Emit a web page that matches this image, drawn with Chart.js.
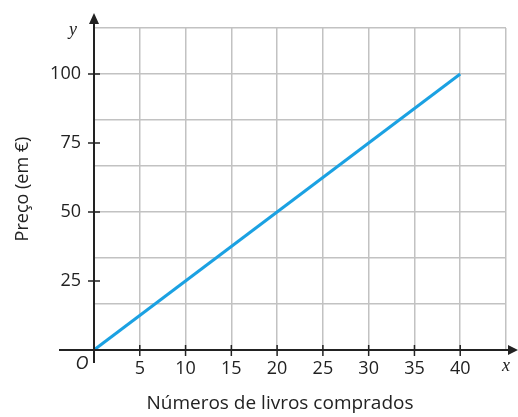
<!DOCTYPE html>
<html lang="pt">
<head>
<meta charset="UTF-8">
<title>Preço dos livros</title>
<script src="https://cdn.jsdelivr.net/npm/chart.js"></script>
<style>
  html, body { margin: 0; padding: 0; background: #fff; }
  #wrap { width: 518px; height: 417px; }
</style>
</head>
<body>
<div id="wrap"><canvas id="grafico" width="518" height="417"></canvas></div>
<script>
// dados
const livros = [0, 40];
const precos = [0, 100];
const xTicks = [5, 10, 15, 20, 25, 30, 35, 40];
const yTicks = [25, 50, 75, 100];
const tituloX = 'Números de livros comprados';

const textColor = '#222';
const gridColor = '#c2c2c2';

// quadriculado: x de 5 em 5, y de 100/6 em 100/6 (quadrados)
const xMax = 45;
const yMax = 700 / 6;
const yGrid = [0, 1, 2, 3, 4, 5, 6, 7].map(k => k * 100 / 6);

const eixos = {
  id: 'eixos',
  afterDatasetsDraw(chart) {
    const ctx = chart.ctx;
    const xs = chart.scales.x, ys = chart.scales.y;
    const x0 = xs.getPixelForValue(0), y0 = ys.getPixelForValue(0);
    ctx.save();
    ctx.strokeStyle = textColor;
    ctx.fillStyle = textColor;
    ctx.lineWidth = 2;
    // eixo x
    ctx.beginPath();
    ctx.moveTo(59, y0); ctx.lineTo(510, y0); ctx.stroke();
    ctx.beginPath();
    ctx.moveTo(518, y0); ctx.lineTo(508, y0 - 5); ctx.lineTo(508, y0 + 5); ctx.closePath(); ctx.fill();
    // eixo y
    ctx.beginPath();
    ctx.moveTo(x0, y0 + 13); ctx.lineTo(x0, 22); ctx.stroke();
    ctx.beginPath();
    ctx.moveTo(x0, 13); ctx.lineTo(x0 - 5, 24); ctx.lineTo(x0 + 5, 24); ctx.closePath(); ctx.fill();
    // marcas
    ctx.lineWidth = 1.5;
    xTicks.forEach(v => {
      const px = xs.getPixelForValue(v);
      ctx.beginPath(); ctx.moveTo(px, y0 - 5); ctx.lineTo(px, y0 + 6); ctx.stroke();
    });
    yTicks.forEach(v => {
      const py = ys.getPixelForValue(v);
      ctx.beginPath(); ctx.moveTo(x0 - 6, py); ctx.lineTo(x0 + 6, py); ctx.stroke();
    });
    // letras
    ctx.font = 'italic 18px "Liberation Serif"';
    ctx.textBaseline = 'middle';
    ctx.textAlign = 'center';
    ctx.fillText('x', 506, y0 + 16);
    ctx.fillText('y', 73, 30);
    ctx.font = 'italic 18px "Open Sans"';
    ctx.fillText('O', 82, y0 + 14);
    // título do eixo x
    ctx.font = '19px "Open Sans"';
    ctx.fillText(tituloX, 280, 404);
    ctx.restore();
  }
};

new Chart(document.getElementById('grafico'), {
  type: 'line',
  data: {
    datasets: [{
      data: livros.map((v, i) => ({ x: v, y: precos[i] })),
      borderColor: '#1ba1e2',
      borderWidth: 3,
      pointRadius: 0,
      fill: false
    }]
  },
  options: {
    responsive: false,
    animation: false,
    layout: { padding: { top: 28, right: 12, left: 8, bottom: 0 } },
    plugins: { legend: { display: false }, tooltip: { enabled: false } },
    scales: {
      x: {
        type: 'linear',
        min: 0,
        max: xMax,
        afterBuildTicks: s => { s.ticks = [0, ...xTicks, 45].map(v => ({ value: v })); },
        afterFit: s => { s.height = 67; },
        border: { display: false },
        grid: { color: gridColor, lineWidth: 1.5, drawTicks: false },
        ticks: {
          color: textColor,
          font: { family: '"Open Sans"', size: 18 },
          padding: 8,
          maxRotation: 0,
          autoSkip: false,
          callback: v => xTicks.includes(v) ? String(v) : ''
        }
      },
      y: {
        min: 0,
        max: yMax,
        afterBuildTicks: s => {
          const vals = [...new Set([...yGrid, ...yTicks].map(v => Math.round(v * 1000) / 1000))].sort((a, b) => a - b);
          s.ticks = vals.map(v => ({ value: v }));
        },
        afterFit: s => { s.width = 86; },
        border: { display: false },
        grid: {
          drawTicks: false,
          lineWidth: 1.5,
          color: c => yGrid.some(g => Math.abs(g - c.tick.value) < 0.01) ? gridColor : 'rgba(0,0,0,0)'
        },
        ticks: {
          color: textColor,
          font: { family: '"Open Sans"', size: 18 },
          padding: 13,
          autoSkip: false,
          callback: v => yTicks.includes(v) ? String(v) : ''
        },
        title: {
          display: true,
          text: 'Preço (em €)',
          color: textColor,
          font: { family: '"Open Sans"', size: 18 },
          padding: { top: 4, bottom: 0 }
        }
      }
    }
  },
  plugins: [eixos]
});
</script>
</body>
</html>
